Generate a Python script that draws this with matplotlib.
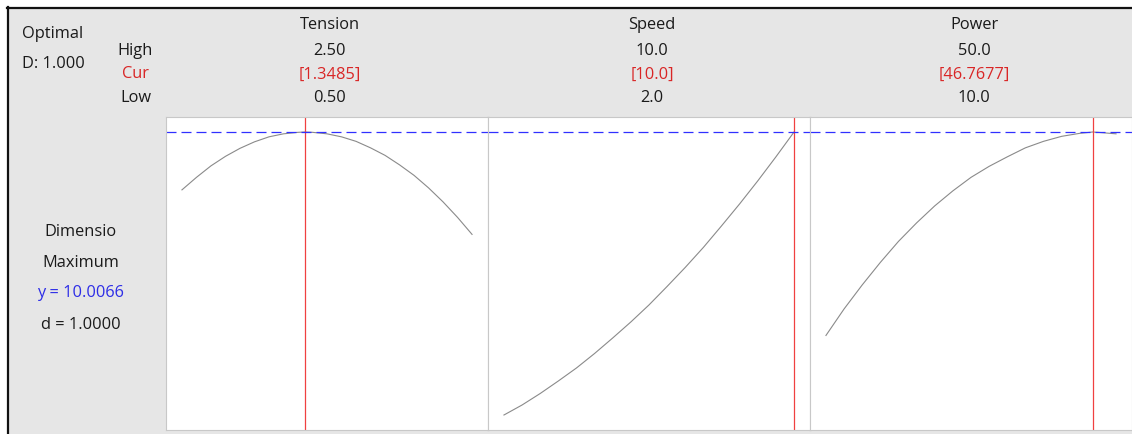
import matplotlib.pyplot as plt
from matplotlib.patches import Rectangle
from matplotlib.lines import Line2D

plt.rcParams['font.family'] = ['Open Sans', 'DejaVu Sans']

# factor settings
factors = ['Tension', 'Speed', 'Power']
high_labels = ['2.50', '10.0', '50.0']
low_labels = ['0.50', '2.0', '10.0']
cur_labels = ['[1.3485]', '[10.0]', '[46.7677]']
low_values = [0.5, 2.0, 10.0]
high_values = [2.5, 10.0, 50.0]
cur_values = [1.3485, 10.0, 46.7677]

# predicted response along each factor (others held at optimum)
tension_x = [0.5, 0.6, 0.7, 0.8, 0.9, 1.0, 1.1, 1.2, 1.3, 1.3485, 1.4, 1.5, 1.6,
             1.7, 1.8, 1.9, 2.0, 2.1, 2.2, 2.3, 2.4, 2.5]
tension_y = [8.85, 9.10, 9.33, 9.52, 9.68, 9.81, 9.91, 9.97, 10.00, 10.0066, 10.00,
             9.97, 9.91, 9.82, 9.69, 9.54, 9.35, 9.14, 8.89, 8.61, 8.30, 7.96]
speed_x = [2.0, 2.5, 3.0, 3.5, 4.0, 4.5, 5.0, 5.5, 6.0, 6.5, 7.0, 7.5, 8.0, 8.5,
           9.0, 9.5, 10.0]
speed_y = [4.35, 4.55, 4.78, 5.03, 5.29, 5.58, 5.89, 6.21, 6.55, 6.92, 7.30, 7.70,
           8.13, 8.57, 9.03, 9.51, 10.0066]
power_x = [10.0, 12.5, 15.0, 17.5, 20.0, 22.5, 25.0, 27.5, 30.0, 32.5, 35.0, 37.5,
           40.0, 42.5, 45.0, 46.7677, 47.5, 50.0]
power_y = [5.94, 6.47, 6.95, 7.40, 7.82, 8.19, 8.53, 8.83, 9.10, 9.32, 9.51, 9.69,
           9.82, 9.92, 9.98, 10.0066, 10.00, 9.97]

curves_x = [tension_x, speed_x, power_x]
curves_y = [tension_y, speed_y, power_y]

y_opt = 10.0066
d_value = 1.0000
D_overall = 1.000

W, H = 1132, 434


def fx(px):
    return px / W


def fy(py):
    return 1 - py / H


fig = plt.figure(figsize=(W / 100, H / 100), dpi=100)
fig.patch.set_facecolor('white')

# grey panel with the dark frame on top and left
fig.add_artist(Rectangle((fx(8), 0), 1 - fx(8), fy(8), transform=fig.transFigure,
                         facecolor='#e6e6e6', edgecolor='none', zorder=0))
fig.add_artist(Line2D([fx(7), 1], [fy(8), fy(8)], transform=fig.transFigure,
                      color='#111111', lw=1.6))
fig.add_artist(Line2D([fx(8), fx(8)], [0, fy(7)], transform=fig.transFigure,
                      color='#111111', lw=1.6))

txt = dict(fontsize=11.8, va='baseline')
dark = '#1a1a1a'
red = '#d92626'
blue = '#2e2ee6'

fig.text(fx(22), fy(37.5), 'Optimal', ha='left', color=dark, **txt)
fig.text(fx(22), fy(67.5), 'D: %.3f' % D_overall, ha='left', color=dark, **txt)
fig.text(fx(135.5), fy(55), 'High', ha='center', color=dark, **txt)
fig.text(fx(135.5), fy(78.5), 'Cur', ha='center', color=red, **txt)
fig.text(fx(135.5), fy(101.7), 'Low', ha='center', color=dark, **txt)

fig.text(fx(80.5), fy(235.7), 'Dimensio', ha='center', color=dark, **txt)
fig.text(fx(80.5), fy(266.7), 'Maximum', ha='center', color=dark, **txt)
fig.text(fx(80.5), fy(297.3), 'y = %.4f' % y_opt, ha='center', color=blue, **txt)
fig.text(fx(80.5), fy(329.3), 'd = %.4f' % d_value, ha='center', color=dark, **txt)

# shared response scale
all_y = tension_y + speed_y + power_y
y_lo, y_hi = min(all_y), max(all_y)
pad = 0.053 * (y_hi - y_lo)

left0, panel_w = 166, 322
for i in range(3):
    left = left0 + panel_w * i
    ax = fig.add_axes([fx(left), fy(430), panel_w / W, (430 - 117) / H])
    ax.set_facecolor('white')
    lo, hi = low_values[i], high_values[i]
    xpad = 0.055 * (hi - lo)
    ax.set_xlim(lo - xpad, hi + xpad)
    ax.set_ylim(y_lo - pad, y_hi + pad)
    ax.set_xticks([])
    ax.set_yticks([])
    for side in ax.spines.values():
        side.set_color('#c8c8c8')
        side.set_linewidth(0.8)

    ax.plot(curves_x[i], curves_y[i], color='#8a8a8a', lw=0.8)
    ax.axvline(cur_values[i], color='#f04040', lw=0.9)
    ax.axhline(y_opt, color='#3030ff', lw=0.9, dashes=[8.0, 4.0])

    cx = left + panel_w / 2 + 3
    fig.text(fx(cx), fy(29.3), factors[i], ha='center', color=dark, **txt)
    fig.text(fx(cx), fy(55), high_labels[i], ha='center', color=dark, **txt)
    fig.text(fx(cx), fy(78.5), cur_labels[i], ha='center', color=red, **txt)
    fig.text(fx(cx), fy(101.7), low_labels[i], ha='center', color=dark, **txt)

fig.savefig('out.png', dpi=100)
